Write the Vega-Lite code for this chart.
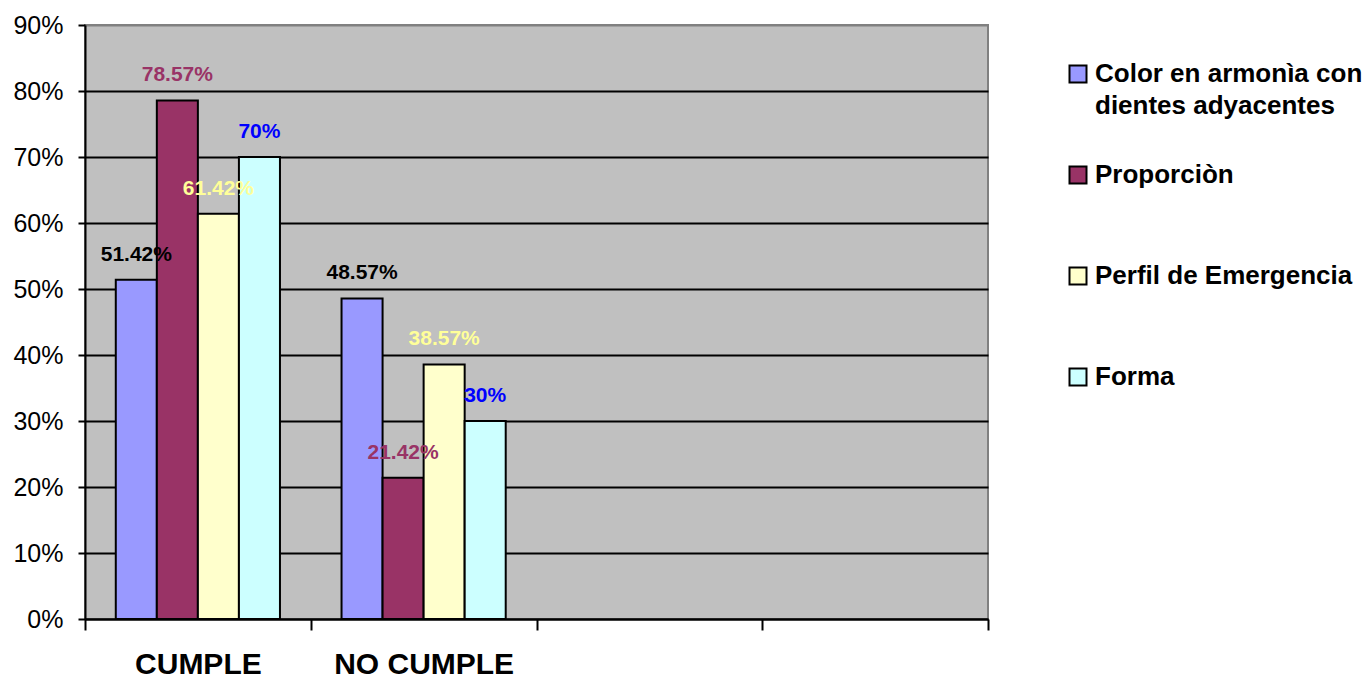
{
  "$schema": "https://vega.github.io/schema/vega-lite/v6.json",
  "width": 903,
  "height": 594,
  "autosize": {"type": "none"},
  "padding": {"left": 85, "top": 25, "right": 384, "bottom": 59},
  "background": "white",
  "config": {
    "font": "Liberation Sans",
    "view": {"fill": "#C0C0C0", "stroke": "#808080", "strokeWidth": 2}
  },
  "data": {
    "values": [
      {"categoria": "CUMPLE", "serie": "Color en armonìa con dientes adyacentes", "valor": 0.5142},
      {"categoria": "CUMPLE", "serie": "Proporciòn", "valor": 0.7857},
      {"categoria": "CUMPLE", "serie": "Perfil de Emergencia", "valor": 0.6142},
      {"categoria": "CUMPLE", "serie": "Forma", "valor": 0.70},
      {"categoria": "NO CUMPLE", "serie": "Color en armonìa con dientes adyacentes", "valor": 0.4857},
      {"categoria": "NO CUMPLE", "serie": "Proporciòn", "valor": 0.2142},
      {"categoria": "NO CUMPLE", "serie": "Perfil de Emergencia", "valor": 0.3857},
      {"categoria": "NO CUMPLE", "serie": "Forma", "valor": 0.30}
    ]
  },
  "encoding": {
    "x": {
      "field": "categoria",
      "type": "nominal",
      "scale": {"domain": ["CUMPLE", "NO CUMPLE", "C3", "C4"], "paddingInner": 0, "paddingOuter": 0},
      "axis": {
        "title": null,
        "labelExpr": "datum.value == 'CUMPLE' || datum.value == 'NO CUMPLE' ? datum.value : ''",
        "labelAngle": 0,
        "labelFontSize": 30,
        "labelFontWeight": "bold",
        "labelColor": "black",
        "labelPadding": 19,
        "labelLimit": 400,
        "labelOverlap": false,
        "tickBand": "extent",
        "tickColor": "black",
        "tickWidth": 2,
        "tickSize": 11,
        "domainColor": "black",
        "domainWidth": 2,
        "grid": false
      }
    },
    "xOffset": {
      "field": "serie",
      "type": "nominal",
      "scale": {
        "domain": ["Color en armonìa con dientes adyacentes", "Proporciòn", "Perfil de Emergencia", "Forma"],
        "paddingInner": 0,
        "paddingOuter": 0.75
      }
    },
    "y": {
      "field": "valor",
      "type": "quantitative",
      "scale": {"domain": [0, 0.9], "nice": false},
      "axis": {
        "title": null,
        "values": [0, 0.1, 0.2, 0.3, 0.4, 0.5, 0.6, 0.7, 0.8, 0.9],
        "format": ".0%",
        "labelFontSize": 25,
        "labelColor": "black",
        "labelPadding": 15,
        "tickColor": "black",
        "tickWidth": 2,
        "tickSize": 7,
        "domainColor": "black",
        "domainWidth": 2,
        "grid": true,
        "gridColor": {"condition": {"test": "datum.value >= 0.89", "value": "#808080"}, "value": "black"},
        "gridWidth": 2,
        "gridOpacity": 1
      }
    }
  },
  "layer": [
    {
      "mark": {"type": "bar", "stroke": "black", "strokeWidth": 2},
      "encoding": {
        "color": {
          "field": "serie",
          "type": "nominal",
          "scale": {
            "domain": ["Color en armonìa con dientes adyacentes", "Proporciòn", "Perfil de Emergencia", "Forma"],
            "range": ["#9999FF", "#993366", "#FFFFCC", "#CCFFFF"]
          },
          "legend": {
            "orient": "none",
            "legendX": 980,
            "legendY": 36,
            "title": null,
            "padding": 0,
            "symbolType": "square",
            "symbolSize": 289,
            "symbolStrokeColor": "black",
            "symbolStrokeWidth": 2,
            "symbolOpacity": 1,
            "labelFont": "Liberation Sans",
            "labelFontSize": 26,
            "labelFontWeight": "bold",
            "labelColor": "black",
            "labelOffset": 4,
            "labelLimit": 500,
            "rowPadding": 43,
            "gridAlign": "all",
            "labelExpr": "datum.label == 'Color en armonìa con dientes adyacentes' ? ['Color en armonìa con', 'dientes adyacentes'] : datum.label",
            "encode": {
              "labels": {
                "update": {
                  "lineHeight": {"value": 32}
                }
              }
            }
          }
        }
      }
    },
    {
      "mark": {"type": "text", "dy": -25, "fontSize": 21, "fontWeight": "bold", "baseline": "middle", "font": "Liberation Sans"},
      "encoding": {
        "text": {"field": "valor", "type": "quantitative", "format": ".2~%"},
        "color": {
          "field": "serie",
          "type": "nominal",
          "scale": {
            "domain": ["Color en armonìa con dientes adyacentes", "Proporciòn", "Perfil de Emergencia", "Forma"],
            "range": ["#000000", "#993366", "#FFFF99", "#0000FF"]
          },
          "legend": null
        }
      }
    }
  ],
  "resolve": {"scale": {"color": "independent"}}
}
